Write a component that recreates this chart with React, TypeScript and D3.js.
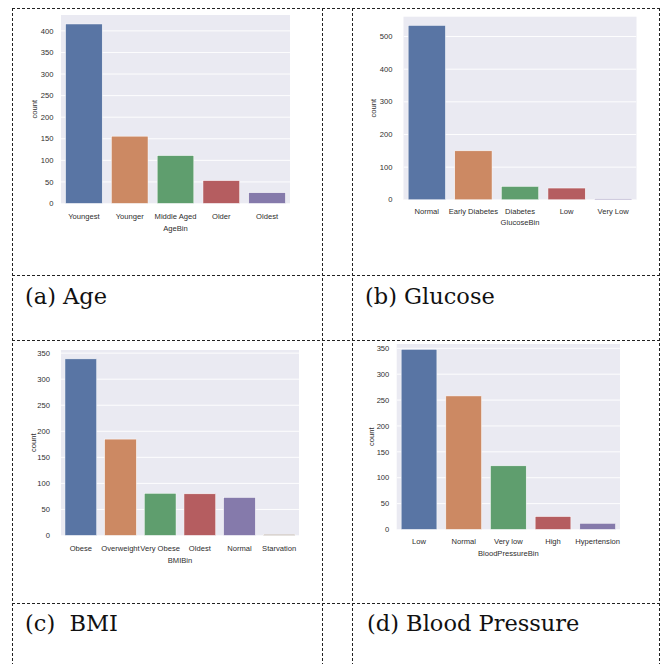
import React from "react";
import * as d3 from "d3";

const ageCats = ["Youngest", "Younger", "Middle Aged", "Older", "Oldest"];
const ageCounts = [416, 156, 111, 53, 25];
const ageTicks = [0, 50, 100, 150, 200, 250, 300, 350, 400];

const glucoseCats = ["Normal", "Early Diabetes", "Diabetes", "Low", "Very Low"];
const glucoseCounts = [534, 150, 41, 36, 3];
const glucoseTicks = [0, 100, 200, 300, 400, 500];

const bmiCats = ["Obese", "Overweight", "Very Obese", "Oldest", "Normal", "Starvation"];
const bmiCounts = [339, 185, 81, 80, 73, 2];
const bmiTicks = [0, 50, 100, 150, 200, 250, 300, 350];

const bpCats = ["Low", "Normal", "Very low", "High", "Hypertension"];
const bpCounts = [348, 258, 123, 25, 12];
const bpTicks = [0, 50, 100, 150, 200, 250, 300, 350];

const palette = ["#5975a4", "#cc8963", "#5f9e6e", "#b55d60", "#857aab", "#8d7866"];

const captions = ["(a) Age", "(b) Glucose", "(c)  BMI", "(d) Blood Pressure"];

type PanelProps = {
  cats: string[];
  counts: number[];
  ticks: number[];
  xLabel: string;
  x0: number;
  x1: number;
  yZero: number;
  yTop: number;
  yMax: number;
  tickGap: number;
  yLabelX: number;
  xTickDy: number;
  xLabelDy: number;
  id: string;
};

const textColor = "#2e2e2e";
const sans = "'Liberation Sans', Arial, sans-serif";

function Panel(p: PanelProps) {
  const x = d3.scaleBand<string>().domain(p.cats).range([p.x0, p.x1]).paddingInner(0.2).paddingOuter(0.1);
  const y = d3.scaleLinear().domain([0, p.yMax]).range([p.yZero, p.yTop]);
  const fs = 7.6;
  return (
    <g>
      <defs>
        <clipPath id={p.id}>
          <rect x={p.x0} y={p.yTop} width={p.x1 - p.x0} height={p.yZero - p.yTop} />
        </clipPath>
      </defs>
      <rect x={p.x0} y={p.yTop} width={p.x1 - p.x0} height={p.yZero - p.yTop} fill="#eaeaf2" />
      <g clipPath={`url(#${p.id})`}>
        {p.ticks.map((t) => (
          <line key={t} x1={p.x0} x2={p.x1} y1={y(t)} y2={y(t)} stroke="#fff" strokeWidth={0.9} />
        ))}
        {p.cats.map((c, i) => (
          <rect
            key={c}
            x={x(c)}
            width={x.bandwidth()}
            y={y(p.counts[i])}
            height={y(0) - y(p.counts[i])}
            fill={palette[i]}
            stroke="#fff"
            strokeWidth={0.5}
          />
        ))}
      </g>
      {p.ticks.map((t) => (
        <text
          key={t}
          x={p.x0 - p.tickGap}
          y={y(t)}
          dy="0.35em"
          textAnchor="end"
          fontSize={fs}
          fontFamily={sans}
          fill={textColor}
        >
          {t}
        </text>
      ))}
      {p.cats.map((c) => (
        <text
          key={c}
          x={(x(c) as number) + x.bandwidth() / 2}
          y={p.yZero + p.xTickDy}
          dy="0.35em"
          textAnchor="middle"
          fontSize={fs}
          fontFamily={sans}
          fill={textColor}
        >
          {c}
        </text>
      ))}
      <text
        x={(p.x0 + p.x1) / 2}
        y={p.yZero + p.xLabelDy}
        dy="0.35em"
        textAnchor="middle"
        fontSize={fs}
        fontFamily={sans}
        fill={textColor}
      >
        {p.xLabel}
      </text>
      <text
        transform={`translate(${p.yLabelX},${(p.yZero + p.yTop) / 2}) rotate(-90)`}
        dy="0.35em"
        textAnchor="middle"
        fontSize={fs}
        fontFamily={sans}
        fill={textColor}
      >
        count
      </text>
    </g>
  );
}

export default function App() {
  const W = 665;
  const H = 664;
  const vLines = [12.5, 322.5, 352.5, 659.5];
  const hLines = [8.5, 275.5, 340.5, 603.5];
  const dash = "3 2";
  const stroke = "#222";
  const capFont = "'DejaVu Serif', 'Liberation Serif', serif";
  const capSize = 22.5;
  return (
    <svg width={W} height={H} style={{ position: "absolute", left: 0, top: 0, background: "#fff" }}>
      <rect x={0} y={0} width={W} height={H} fill="#fff" />
      <Panel
        id="ca"
        cats={ageCats}
        counts={ageCounts}
        ticks={ageTicks}
        xLabel="AgeBin"
        x0={61}
        x1={290}
        yZero={203.5}
        yTop={15}
        yMax={436.8}
        tickGap={7.5}
        yLabelX={34}
        xTickDy={12.5}
        xLabelDy={25}
      />
      <Panel
        id="cb"
        cats={glucoseCats}
        counts={glucoseCounts}
        ticks={glucoseTicks}
        xLabel="GlucoseBin"
        x0={403.5}
        x1={636.5}
        yZero={199.8}
        yTop={16.7}
        yMax={560.7}
        tickGap={11}
        yLabelX={373}
        xTickDy={11.5}
        xLabelDy={23}
      />
      <Panel
        id="cc"
        cats={bmiCats}
        counts={bmiCounts}
        ticks={bmiTicks}
        xLabel="BMIBin"
        x0={61}
        x1={299}
        yZero={535.5}
        yTop={350}
        yMax={356}
        tickGap={11}
        yLabelX={33}
        xTickDy={12.8}
        xLabelDy={24.5}
      />
      <Panel
        id="cd"
        cats={bpCats}
        counts={bpCounts}
        ticks={bpTicks}
        xLabel="BloodPressureBin"
        x0={396.7}
        x1={620}
        yZero={529.5}
        yTop={344}
        yMax={358.3}
        tickGap={7.4}
        yLabelX={371}
        xTickDy={11.8}
        xLabelDy={24}
      />
      {vLines.map((vx) => (
        <line key={"v" + vx} x1={vx} x2={vx} y1={8} y2={H} stroke={stroke} strokeWidth={1} strokeDasharray={dash} />
      ))}
      {hLines.map((hy) => (
        <line key={"h" + hy} x1={12} x2={660} y1={hy} y2={hy} stroke={stroke} strokeWidth={1} strokeDasharray={dash} />
      ))}
      <text x={25} y={304} fontSize={capSize} fontFamily={capFont} fill="#111">{captions[0]}</text>
      <text x={365} y={304} fontSize={capSize} fontFamily={capFont} fill="#111">{captions[1]}</text>
      <text x={25} y={631} fontSize={capSize} fontFamily={capFont} fill="#111" style={{ whiteSpace: "pre" }}>{captions[2]}</text>
      <text x={367} y={631} fontSize={capSize} fontFamily={capFont} fill="#111">{captions[3]}</text>
    </svg>
  );
}
